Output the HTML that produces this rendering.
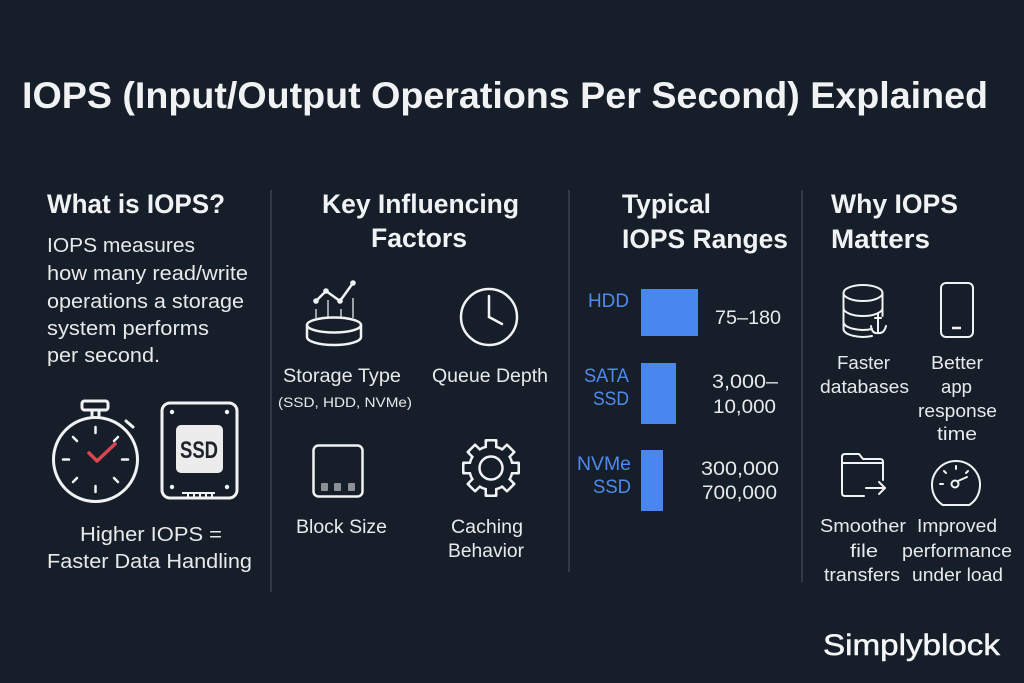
<!DOCTYPE html>
<html><head><meta charset="utf-8">
<style>
html,body{margin:0;padding:0;background:#161e29;}
svg{display:block;}
text{font-family:"Liberation Sans",Arial,sans-serif;}
</style></head>
<body>
<svg width="1024" height="683" viewBox="0 0 1024 683" xmlns="http://www.w3.org/2000/svg">
<rect width="1024" height="683" fill="#161e29"/>

<!-- Title -->
<text x="22" y="108" font-size="37" font-weight="bold" fill="#f1f2f3" textLength="966" lengthAdjust="spacingAndGlyphs">IOPS (Input/Output Operations Per Second) Explained</text>

<!-- dividers -->
<g stroke="#3a4350" stroke-width="1.5">
<line x1="271" y1="190" x2="271" y2="592"/>
<line x1="569" y1="190" x2="569" y2="572"/>
<line x1="802" y1="190" x2="802" y2="582"/>
</g>

<!-- Column 1 -->
<g fill="#f1f2f3">
<text x="47" y="213" font-size="27" font-weight="bold" textLength="178" lengthAdjust="spacingAndGlyphs">What is IOPS?</text>
</g>
<g fill="#e8e9ea" font-size="20">
<text x="47" y="252" textLength="148" lengthAdjust="spacingAndGlyphs">IOPS measures</text>
<text x="47" y="280" textLength="201" lengthAdjust="spacingAndGlyphs">how many read/write</text>
<text x="47" y="308" textLength="197" lengthAdjust="spacingAndGlyphs">operations a storage</text>
<text x="47" y="335" textLength="162" lengthAdjust="spacingAndGlyphs">system performs</text>
<text x="47" y="362" textLength="113" lengthAdjust="spacingAndGlyphs">per second.</text>
<text x="80" y="541" textLength="142" lengthAdjust="spacingAndGlyphs">Higher IOPS =</text>
<text x="47" y="568" textLength="205" lengthAdjust="spacingAndGlyphs">Faster Data Handling</text>
</g>

<!-- stopwatch -->
<g stroke="#f1f2f3" fill="none" stroke-width="3" stroke-linecap="round">
<circle cx="95.5" cy="459.5" r="42"/>
<rect x="82" y="401" width="26" height="9" rx="2.5"/>
<line x1="92" y1="410" x2="92" y2="417"/>
<line x1="99" y1="410" x2="99" y2="417"/>
<line x1="126" y1="421" x2="133" y2="427"/>
<g stroke-width="2.5">
<line x1="95.5" y1="427" x2="95.5" y2="433"/>
<line x1="95.5" y1="486" x2="95.5" y2="492"/>
<line x1="63" y1="459.5" x2="69" y2="459.5"/>
<line x1="122" y1="459.5" x2="128" y2="459.5"/>
<line x1="73" y1="437" x2="77" y2="441"/>
<line x1="118" y1="437" x2="114" y2="441"/>
<line x1="73" y1="482" x2="77" y2="478"/>
<line x1="118" y1="482" x2="114" y2="478"/>
</g>
</g>
<polyline points="89,453 97,461 115,444" fill="none" stroke="#d9464f" stroke-width="3.5" stroke-linecap="round" stroke-linejoin="round"/>

<!-- SSD -->
<g stroke="#f1f2f3" fill="none" stroke-width="3">
<rect x="162" y="403" width="75" height="95" rx="8"/>
<line x1="182" y1="493" x2="215" y2="493" stroke-width="2"/>
</g>
<g stroke="#f1f2f3" stroke-width="2">
<line x1="188" y1="493" x2="188" y2="498"/>
<line x1="194" y1="493" x2="194" y2="498"/>
<line x1="200" y1="493" x2="200" y2="498"/>
<line x1="206" y1="493" x2="206" y2="498"/>
<line x1="212" y1="493" x2="212" y2="498"/>
</g>
<g fill="#f1f2f3">
<circle cx="172" cy="412" r="2.2"/>
<circle cx="227" cy="412" r="2.2"/>
<circle cx="172" cy="487" r="2.2"/>
<circle cx="227" cy="487" r="2.2"/>
</g>
<rect x="176" y="425" width="47" height="48" rx="5" fill="#ececec"/>
<text x="180" y="458" font-size="24" font-weight="bold" fill="#1d232b" textLength="38" lengthAdjust="spacingAndGlyphs">SSD</text>

<!-- Column 2 -->
<g fill="#f1f2f3" font-size="27" font-weight="bold">
<text x="322" y="213" textLength="197" lengthAdjust="spacingAndGlyphs">Key Influencing</text>
<text x="371" y="247" textLength="96" lengthAdjust="spacingAndGlyphs">Factors</text>
</g>
<g fill="#e8e9ea" font-size="19">
<text x="283" y="382" textLength="118" lengthAdjust="spacingAndGlyphs">Storage Type</text>
<text x="278" y="407" font-size="14" textLength="134" lengthAdjust="spacingAndGlyphs">(SSD, HDD, NVMe)</text>
<text x="432" y="382" textLength="116" lengthAdjust="spacingAndGlyphs">Queue Depth</text>
<text x="296" y="533" textLength="91" lengthAdjust="spacingAndGlyphs">Block Size</text>
<text x="451" y="533" textLength="72" lengthAdjust="spacingAndGlyphs">Caching</text>
<text x="448" y="557" textLength="76" lengthAdjust="spacingAndGlyphs">Behavior</text>
</g>

<!-- storage chart icon -->
<g stroke="#9aa1a8" stroke-width="2">
<line x1="316" y1="309" x2="316" y2="318"/>
<line x1="328" y1="300" x2="328" y2="318"/>
<line x1="341" y1="309" x2="341" y2="318"/>
<line x1="353" y1="298" x2="353" y2="318"/>
</g>
<g stroke="#f1f2f3" fill="none" stroke-width="2.5">
<polyline points="316,301 326,291 340,301 353,283" stroke-linejoin="round"/>
<ellipse cx="334" cy="325" rx="27" ry="7.5"/>
<path d="M307 325 V337 A27 8 0 0 0 361 337 V325"/>
</g>
<g fill="#f1f2f3">
<circle cx="316" cy="301" r="2.8"/>
<circle cx="326" cy="291" r="2.8"/>
<circle cx="340" cy="301" r="2.8"/>
<circle cx="353" cy="283" r="2.8"/>
</g>

<!-- clock -->
<g stroke="#f1f2f3" fill="none" stroke-width="2.5" stroke-linecap="round">
<circle cx="489" cy="317" r="28"/>
<line x1="489" y1="317" x2="489" y2="296"/>
<line x1="489" y1="317" x2="502" y2="324"/>
</g>

<!-- block size -->
<rect x="313.5" y="445.5" width="49" height="51" rx="5" stroke="#f1f2f3" stroke-width="2.5" fill="none"/>
<g fill="#8c8f93">
<rect x="321" y="483" width="7" height="8" rx="1"/>
<rect x="334" y="483" width="7" height="8" rx="1"/>
<rect x="348" y="483" width="7" height="8" rx="1"/>
</g>

<!-- gear -->
<g transform="translate(491,468)">
<g fill="#f1f2f3">
<circle r="23"/>
<g id="teethA">
<rect x="-6.5" y="-29" width="13" height="12" rx="1.5"/>
<rect x="-6.5" y="-29" width="13" height="12" rx="1.5" transform="rotate(45)"/>
<rect x="-6.5" y="-29" width="13" height="12" rx="1.5" transform="rotate(90)"/>
<rect x="-6.5" y="-29" width="13" height="12" rx="1.5" transform="rotate(135)"/>
<rect x="-6.5" y="-29" width="13" height="12" rx="1.5" transform="rotate(180)"/>
<rect x="-6.5" y="-29" width="13" height="12" rx="1.5" transform="rotate(225)"/>
<rect x="-6.5" y="-29" width="13" height="12" rx="1.5" transform="rotate(270)"/>
<rect x="-6.5" y="-29" width="13" height="12" rx="1.5" transform="rotate(315)"/>
</g>
</g>
<g fill="#161e29">
<circle r="20.5"/>
<rect x="-4" y="-26.5" width="8" height="10" rx="1"/>
<rect x="-4" y="-26.5" width="8" height="10" rx="1" transform="rotate(45)"/>
<rect x="-4" y="-26.5" width="8" height="10" rx="1" transform="rotate(90)"/>
<rect x="-4" y="-26.5" width="8" height="10" rx="1" transform="rotate(135)"/>
<rect x="-4" y="-26.5" width="8" height="10" rx="1" transform="rotate(180)"/>
<rect x="-4" y="-26.5" width="8" height="10" rx="1" transform="rotate(225)"/>
<rect x="-4" y="-26.5" width="8" height="10" rx="1" transform="rotate(270)"/>
<rect x="-4" y="-26.5" width="8" height="10" rx="1" transform="rotate(315)"/>
</g>
<circle r="11.5" fill="none" stroke="#f1f2f3" stroke-width="2.5"/>
</g>

<!-- Column 3 -->
<g fill="#f1f2f3" font-size="27" font-weight="bold">
<text x="622" y="213" textLength="89" lengthAdjust="spacingAndGlyphs">Typical</text>
<text x="622" y="248" textLength="166" lengthAdjust="spacingAndGlyphs">IOPS Ranges</text>
</g>
<g fill="#4d8bf0" font-size="19">
<text x="588" y="307" textLength="41" lengthAdjust="spacingAndGlyphs">HDD</text>
<text x="584" y="382" textLength="45" lengthAdjust="spacingAndGlyphs">SATA</text>
<text x="593" y="405" textLength="36" lengthAdjust="spacingAndGlyphs">SSD</text>
<text x="577" y="470" textLength="54" lengthAdjust="spacingAndGlyphs">NVMe</text>
<text x="593" y="493" textLength="38" lengthAdjust="spacingAndGlyphs">SSD</text>
</g>
<g fill="#4a86ef">
<rect x="641" y="289" width="57" height="47"/>
<rect x="641" y="363" width="35" height="61"/>
<rect x="641" y="450" width="22" height="61"/>
</g>
<g fill="#e8e9ea" font-size="19">
<text x="715" y="324" textLength="66" lengthAdjust="spacingAndGlyphs">75–180</text>
<text x="712" y="388" textLength="66" lengthAdjust="spacingAndGlyphs">3,000–</text>
<text x="713" y="413" textLength="63" lengthAdjust="spacingAndGlyphs">10,000</text>
<text x="701" y="475" textLength="78" lengthAdjust="spacingAndGlyphs">300,000</text>
<text x="702" y="499" textLength="75" lengthAdjust="spacingAndGlyphs">700,000</text>
</g>

<!-- Column 4 -->
<g fill="#f1f2f3" font-size="27" font-weight="bold">
<text x="831" y="213" textLength="127" lengthAdjust="spacingAndGlyphs">Why IOPS</text>
<text x="831" y="248" textLength="99" lengthAdjust="spacingAndGlyphs">Matters</text>
</g>
<g fill="#e8e9ea" font-size="18">
<text x="837" y="369" textLength="53" lengthAdjust="spacingAndGlyphs">Faster</text>
<text x="820" y="393" textLength="89" lengthAdjust="spacingAndGlyphs">databases</text>
<text x="931" y="369" textLength="52" lengthAdjust="spacingAndGlyphs">Better</text>
<text x="941" y="393" textLength="31" lengthAdjust="spacingAndGlyphs">app</text>
<text x="918" y="417" textLength="79" lengthAdjust="spacingAndGlyphs">response</text>
<text x="937" y="440" textLength="40" lengthAdjust="spacingAndGlyphs">time</text>
<text x="820" y="532" textLength="86" lengthAdjust="spacingAndGlyphs">Smoother</text>
<text x="850" y="557" textLength="28" lengthAdjust="spacingAndGlyphs">file</text>
<text x="824" y="581" textLength="76" lengthAdjust="spacingAndGlyphs">transfers</text>
<text x="917" y="532" textLength="80" lengthAdjust="spacingAndGlyphs">Improved</text>
<text x="902" y="557" textLength="110" lengthAdjust="spacingAndGlyphs">performance</text>
<text x="912" y="581" textLength="91" lengthAdjust="spacingAndGlyphs">under load</text>
</g>

<!-- DB icon -->
<g stroke="#f1f2f3" fill="none" stroke-width="2" stroke-linecap="round">
<ellipse cx="863" cy="293" rx="19.5" ry="8"/>
<path d="M843.5 293 V329 A19.5 8 0 0 0 872 336"/>
<path d="M882.5 293 V316"/>
<path d="M843.5 308 A19.5 8 0 0 0 882.5 308"/>
<path d="M843.5 322 A19.5 8 0 0 0 872 329"/>
<line x1="878" y1="314" x2="878" y2="333"/>
<path d="M871 326 Q872 334 878 333 Q884 334 886 326"/>
<line x1="875" y1="318" x2="881" y2="318"/>
</g>

<!-- phone -->
<g stroke="#f1f2f3" fill="none" stroke-width="2">
<rect x="941" y="283" width="32" height="54" rx="5"/>
<line x1="952" y1="328" x2="961" y2="328" stroke-width="2.5"/>
</g>

<!-- folder -->
<g stroke="#f1f2f3" fill="none" stroke-width="2" stroke-linejoin="round" stroke-linecap="round">
<path d="M864 496 H845 Q842 496 842 493 V457 Q842 454 845 454 H859 L863 459 H880 Q883 459 883 462 V480"/>
<line x1="842" y1="463" x2="883" y2="463"/>
<line x1="866" y1="488" x2="885" y2="488"/>
<polyline points="879,482 885,488 879,494"/>
</g>

<!-- gauge -->
<g stroke="#f1f2f3" fill="none" stroke-width="2" stroke-linecap="round">
<path d="M942.7 505 A24 24 0 1 1 969.3 505 Z"/>
<line x1="956" y1="466" x2="956" y2="469"/>
<line x1="944" y1="471" x2="946" y2="473"/>
<line x1="968" y1="471" x2="966" y2="473"/>
<line x1="940" y1="484" x2="943" y2="484"/>
<circle cx="955" cy="484" r="3.5"/>
<line x1="958" y1="481" x2="967" y2="477"/>
</g>

<!-- logo -->
<text x="823" y="655" font-size="30" fill="#f4f5f6" stroke="#f4f5f6" stroke-width="0.5" textLength="177" lengthAdjust="spacingAndGlyphs">Simplyblock</text>
</svg>
</body></html>
